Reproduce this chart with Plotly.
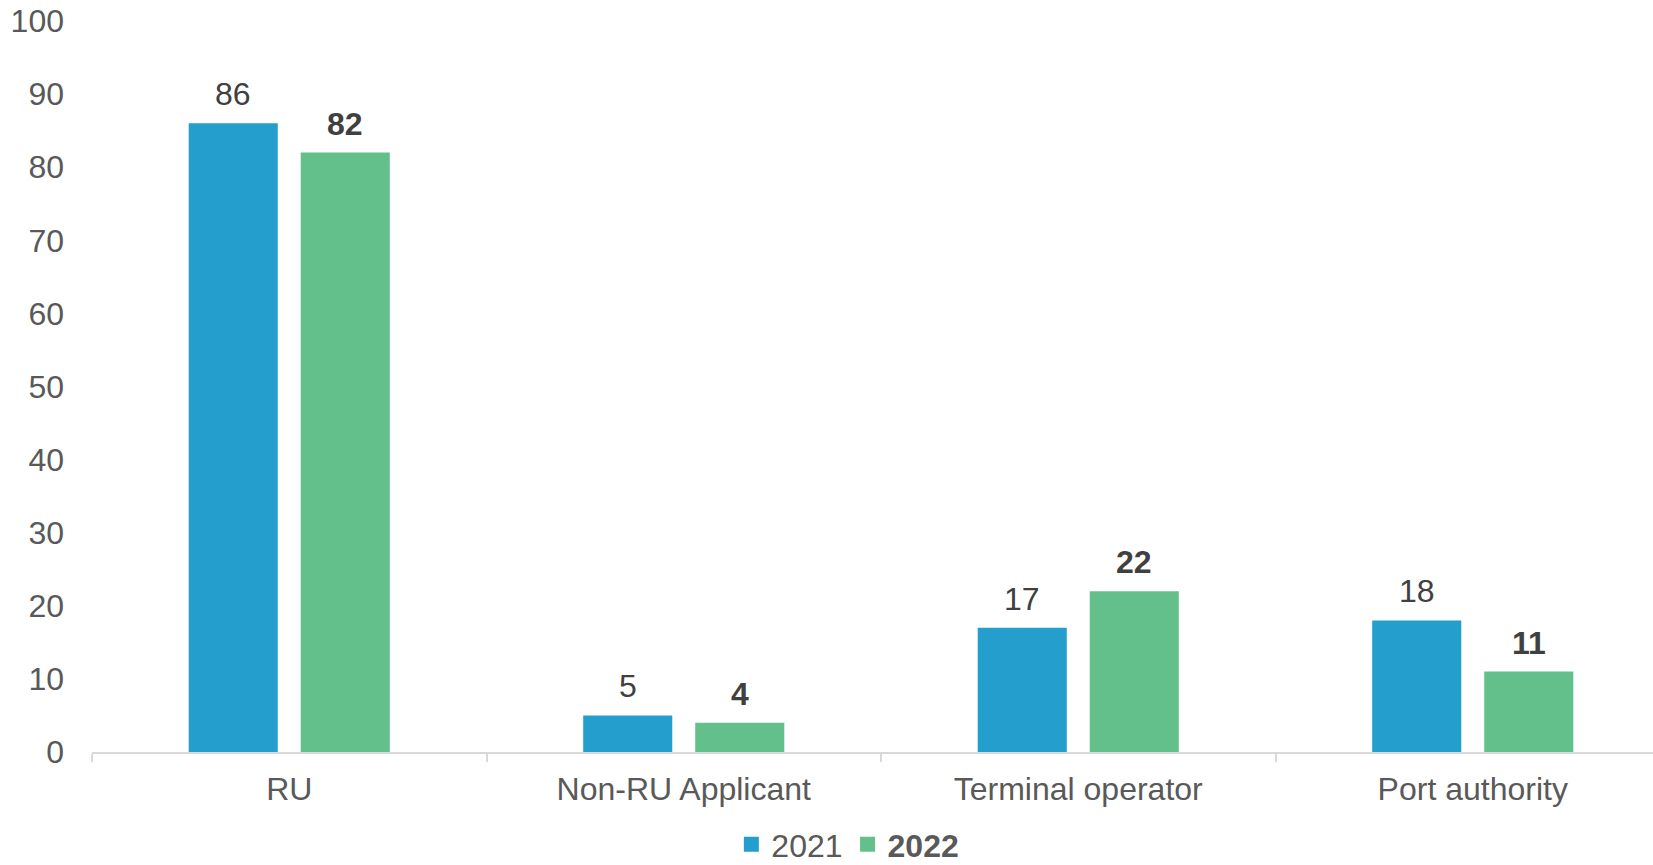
import plotly.graph_objects as go

categories = ["RU", "Non-RU Applicant", "Terminal operator", "Port authority"]
values_2021 = [86, 5, 17, 18]
values_2022 = [82, 4, 22, 11]
y_ticks = [0, 10, 20, 30, 40, 50, 60, 70, 80, 90, 100]

font_family = "Liberation Sans, Arial, sans-serif"
label_color = "#404040"
blue = "#239ECD"
green = "#63C08B"

fig = go.Figure()
fig.add_trace(go.Bar(
    name="2021",
    x=categories,
    y=values_2021,
    marker={"color": blue, "line": {"width": 0}},
    showlegend=False,
))
fig.add_trace(go.Bar(
    name="2022",
    x=categories,
    y=values_2022,
    marker={"color": green, "line": {"width": 0}},
    showlegend=False,
))

# legend entries with bigger square keys than the bar default
fig.add_trace(go.Scatter(x=[None], y=[None], mode="markers", name="2021",
                         marker={"symbol": "square", "size": 15, "color": blue}))
fig.add_trace(go.Scatter(x=[None], y=[None], mode="markers", name="<b>2022</b>",
                         marker={"symbol": "square", "size": 15, "color": green}))

# value labels above bars (half a bar slot left / right of category centre)
half_slot = 56
for cat, v in zip(categories, values_2021):
    fig.add_annotation(x=cat, y=v, text=str(v), showarrow=False,
                       xshift=-half_slot, yshift=29, yanchor="middle",
                       font={"size": 32, "color": label_color, "family": font_family})
for cat, v in zip(categories, values_2022):
    fig.add_annotation(x=cat, y=v, text="<b>%d</b>" % v, showarrow=False,
                       xshift=half_slot, yshift=29, yanchor="middle",
                       font={"size": 32, "color": label_color, "family": font_family})

# the original chart's plot area runs a little past the right edge of the window
fig.update_layout(
    width=1670,
    height=865,
    margin={"l": 92, "r": 0, "t": 21, "b": 113, "autoexpand": False},
    plot_bgcolor="white",
    paper_bgcolor="white",
    font={"family": font_family, "size": 32, "color": "#595959"},
    barmode="group",
    bargap=0.432,
    bargroupgap=0.205,
    showlegend=True,
    legend={
        "orientation": "h",
        "x": 0.479,
        "xanchor": "center",
        "y": -0.089,
        "yanchor": "top",
        "font": {"size": 32, "color": "#595959"},
        "itemwidth": 30,
        "tracegroupgap": 0,
    },
)
fig.update_xaxes(
    automargin=False,
    showline=True,
    linecolor="#D9D9D9",
    linewidth=2,
    ticks="outside",
    tickson="boundaries",
    ticklen=8,
    tickcolor="#D9D9D9",
    tickwidth=2,
    ticklabelstandoff=8,
    showgrid=False,
)
fig.update_yaxes(
    automargin=False,
    range=[0, 100],
    tickvals=y_ticks,
    showgrid=False,
    zeroline=False,
    showline=False,
    ticklabelstandoff=27,
)

# page body has a default 8px margin; drop it and hide scrollbars
fig.write_html(
    "out.html",
    config={"displayModeBar": False},
    post_script="document.body.style.margin = '0'; document.body.style.overflow = 'hidden';",
)
